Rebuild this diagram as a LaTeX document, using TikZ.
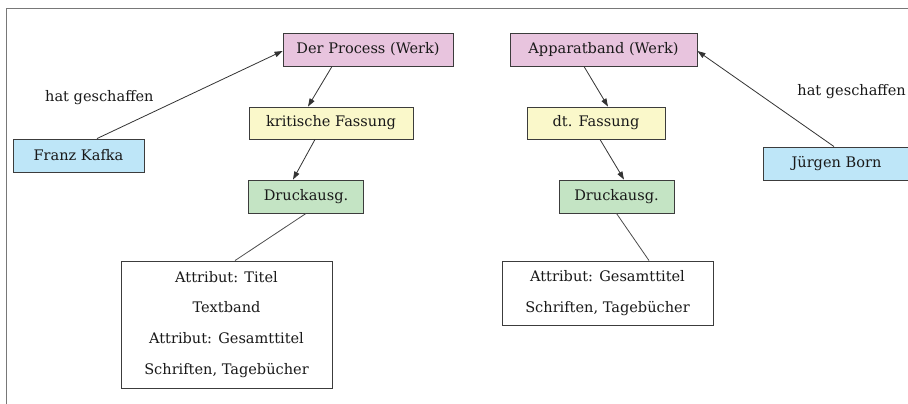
\documentclass[tikz,border=0pt]{standalone}
\usepackage{fontspec}
\setmainfont{DejaVu Serif}
\usetikzlibrary{arrows.meta}
\definecolor{werkfill}{RGB}{232,196,222}
\definecolor{fassfill}{RGB}{250,248,202}
\definecolor{druckfill}{RGB}{196,228,196}
\definecolor{personfill}{RGB}{190,230,248}
\definecolor{boxline}{RGB}{60,60,60}
\definecolor{frameline}{RGB}{120,120,120}
\tikzset{
  box/.style={draw=boxline, line width=0.9bp, rectangle, inner sep=0pt,
    font=\fontsize{14.6}{17}\selectfont, text=black!90},
  werk/.style={box, fill=werkfill, minimum height=33bp},
  fassung/.style={box, fill=fassfill, minimum height=32bp},
  druck/.style={box, fill=druckfill, minimum height=33bp, minimum width=115bp},
  person/.style={box, fill=personfill, minimum height=33bp},
  attrbox/.style={box, fill=white, minimum width=211bp, align=center,
    font=\fontsize{14.6}{31}\selectfont},
  rel/.style={draw=black!80, line width=0.8bp,
    -{Triangle[length=8bp,width=5.5bp]}},
  plain/.style={draw=black!70, line width=0.8bp},
  lbl/.style={font=\fontsize{14.6}{17}\selectfont, text=black!90, inner sep=0pt}
}
\begin{document}
\begin{tikzpicture}[x=1bp,y=-1bp]
\useasboundingbox (0,0) rectangle (908,403);
\clip (0,0) rectangle (908,403);
\fill[white] (0,0) rectangle (908,403);
% outer frame (open to the right and bottom)
\draw[frameline, line width=1.5bp] (6.5,410) -- (6.5,8.5) -- (915,8.5);

% left tree
\node[werk, minimum width=170bp] (proc) at (368,49.5) {Der Process (Werk)};
\node[fassung, minimum width=164bp] (krit) at (331,123) {kritische Fassung};
\node[druck] (druckL) at (306,196.5) {Druckausg.};
\node[person, minimum width=131bp] (kafka) at (78.5,155.5) {Franz Kafka};
\node[attrbox, minimum height=127bp] (attrL) at (226.5,324.5)
  {Attribut: Titel\\Textband\\Attribut: Gesamttitel\\Schriften, Tagebücher};
\node[lbl, anchor=west] (hatL) at (45,98) {hat geschaffen};

% right tree
\node[werk, minimum width=187bp] (app) at (603.5,49.5) {Apparatband (Werk)};
\node[fassung, minimum width=138bp] (dt) at (596,123) {dt. Fassung};
\node[druck] (druckR) at (616.5,196.5) {Druckausg.};
\node[person, minimum width=147bp] (born) at (836.5,163.5) {Jürgen Born};
\node[attrbox, minimum height=64bp] (attrR) at (607.5,293)
  {Attribut: Gesamttitel\\Schriften, Tagebücher};
\node[lbl, anchor=east] (hatR) at (906,92) {hat geschaffen};

% connectors
\draw[rel] ([xshift=18.5bp]kafka.north) -- ([yshift=-1.5bp]proc.west);
\draw[rel] ([xshift=-36bp]proc.south) -- ([xshift=-23bp]krit.north);
\draw[rel] ([xshift=-16bp]krit.south) -- ([xshift=-13bp]druckL.north);
\draw[plain] (druckL.south) -- ([xshift=8.5bp]attrL.north);

\draw[rel] ([xshift=-2.5bp]born.north) -- ([yshift=-1.5bp]app.east);
\draw[rel] ([xshift=-19.5bp]app.south) -- ([xshift=12bp]dt.north);
\draw[rel] ([xshift=4bp]dt.south) -- ([xshift=7.5bp]druckR.north);
\draw[plain] (druckR.south) -- ([xshift=41.5bp]attrR.north);
\end{tikzpicture}
\end{document}
